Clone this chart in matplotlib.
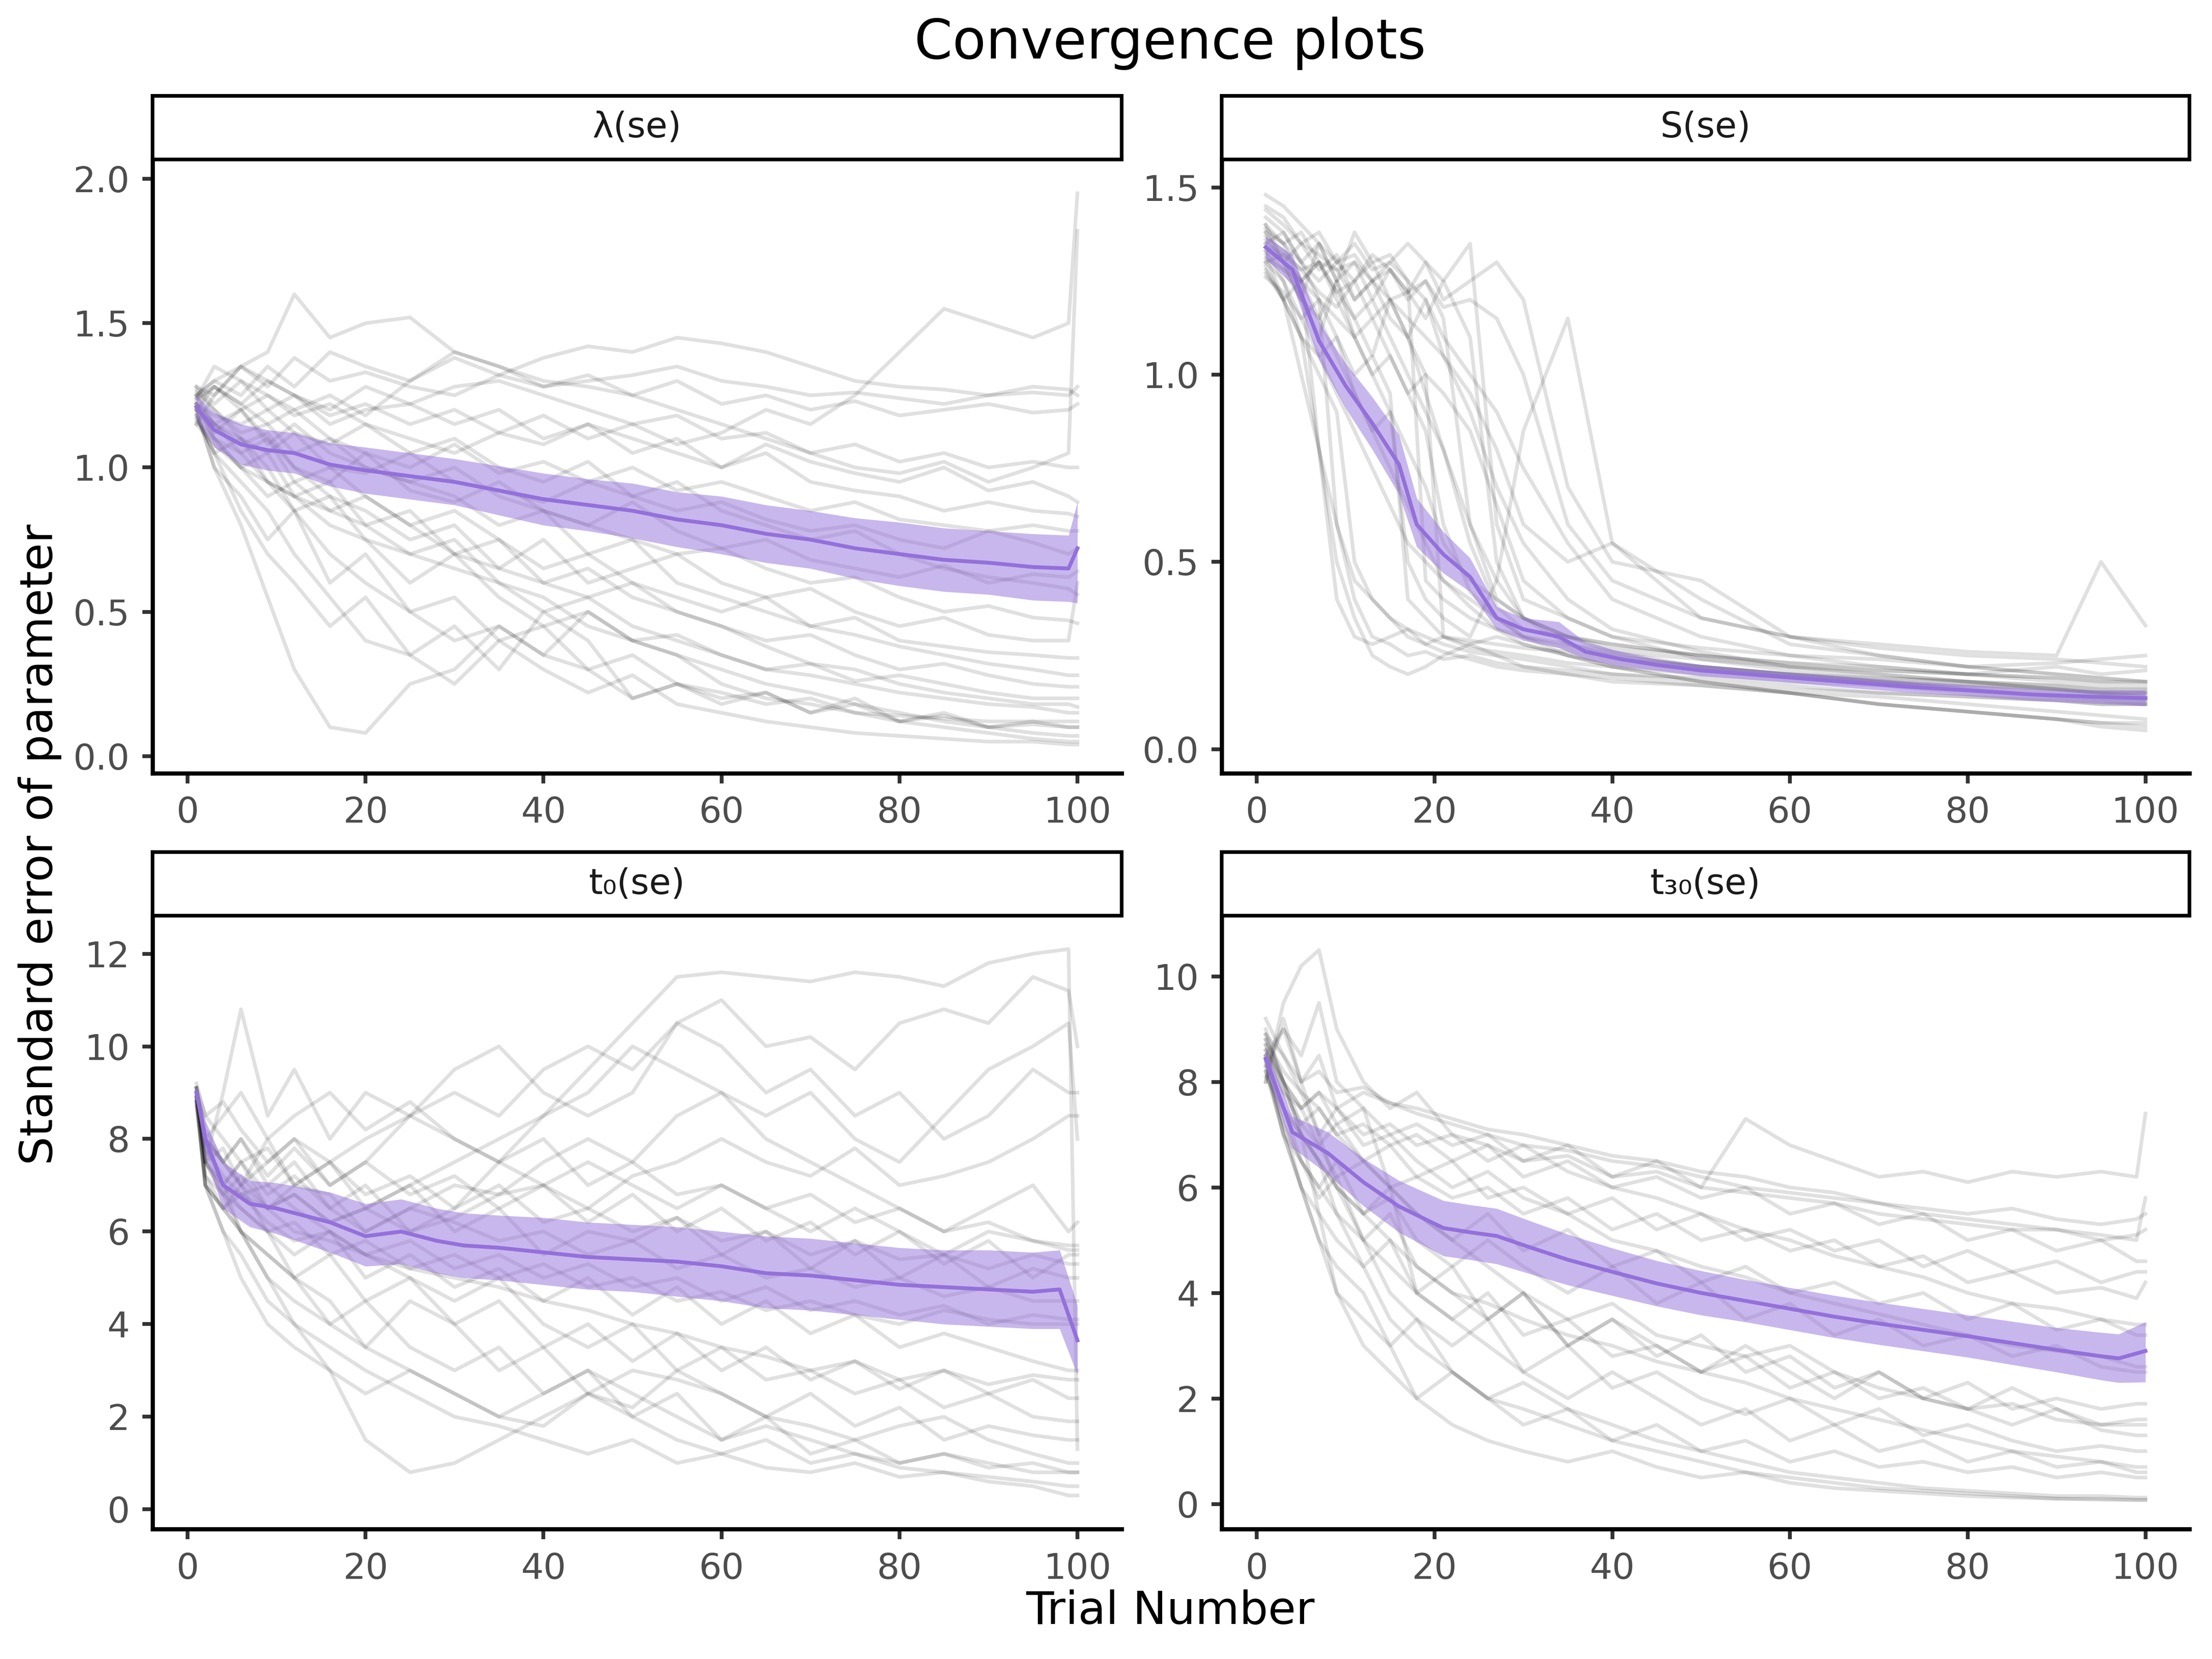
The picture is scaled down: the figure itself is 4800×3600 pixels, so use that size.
import matplotlib
matplotlib.use("Agg")
import matplotlib.pyplot as plt
from matplotlib.ticker import FormatStrFormatter

plt.rcParams['font.family'] = ['DejaVu Sans']

# ---------------- data: lambda(se) ----------------
lam_trials = [1, 3, 6, 9, 12, 16, 20, 25, 30, 35, 40, 45, 50, 55, 60, 65, 70, 75, 80, 85, 90, 95, 99, 100]
lam_runs = [
    [1.25,1.30,1.35,1.28,1.38,1.30,1.33,1.28,1.25,1.32,1.38,1.42,1.40,1.45,1.43,1.40,1.35,1.30,1.28,1.27,1.25,1.26,1.25,1.28],
    [1.20,1.28,1.22,1.30,1.25,1.18,1.22,1.15,1.20,1.12,1.18,1.10,1.15,1.08,1.12,1.20,1.15,1.25,1.40,1.55,1.50,1.45,1.50,1.95],
    [1.15,1.25,1.35,1.40,1.60,1.45,1.50,1.52,1.40,1.35,1.30,1.28,1.25,1.30,1.22,1.25,1.20,1.23,1.18,1.20,1.22,1.19,1.20,1.22],
    [1.28,1.22,1.30,1.25,1.20,1.25,1.18,1.30,1.40,1.35,1.28,1.32,1.25,1.20,1.15,1.10,1.05,1.00,0.98,1.02,0.95,1.00,1.05,1.82],
    [1.22,1.18,1.15,1.20,1.12,1.08,1.15,1.10,1.05,1.12,1.08,1.15,1.10,1.05,1.00,1.08,1.02,0.98,0.95,1.00,0.92,0.95,0.90,0.88],
    [1.25,1.15,1.10,1.05,1.12,1.00,0.98,1.05,0.95,0.92,0.88,0.95,0.90,0.85,0.88,0.82,0.78,0.80,0.75,0.72,0.78,0.74,0.70,0.72],
    [1.20,1.00,0.80,0.55,0.30,0.10,0.08,0.25,0.30,0.45,0.35,0.50,0.40,0.35,0.30,0.25,0.22,0.18,0.15,0.12,0.10,0.08,0.07,0.07],
    [1.18,1.05,0.95,0.85,0.70,0.55,0.40,0.35,0.45,0.30,0.50,0.40,0.20,0.25,0.18,0.22,0.15,0.20,0.12,0.15,0.10,0.12,0.10,0.10],
    [1.22,1.10,1.00,1.05,0.90,0.95,0.80,0.85,0.70,0.75,0.60,0.65,0.55,0.50,0.45,0.38,0.32,0.30,0.25,0.22,0.20,0.18,0.18,0.17],
    [1.26,1.20,1.12,1.15,1.05,1.10,1.00,0.95,0.90,0.80,0.85,0.70,0.75,0.60,0.55,0.50,0.45,0.42,0.38,0.35,0.32,0.30,0.28,0.28],
    [1.15,1.08,1.00,0.90,0.95,0.85,0.80,0.70,0.75,0.60,0.55,0.45,0.40,0.35,0.25,0.20,0.18,0.15,0.12,0.10,0.08,0.06,0.05,0.05],
    [1.24,1.28,1.20,1.25,1.18,1.22,1.15,1.05,1.10,1.00,0.95,1.02,0.90,0.95,0.85,0.80,0.75,0.78,0.70,0.65,0.62,0.60,0.58,0.56],
    [1.20,1.15,1.20,1.10,1.00,0.90,0.85,0.75,0.80,0.65,0.60,0.55,0.60,0.50,0.45,0.40,0.42,0.35,0.30,0.32,0.28,0.25,0.24,0.24],
    [1.28,1.25,1.35,1.30,1.25,1.20,1.28,1.22,1.15,1.20,1.10,1.15,1.05,1.10,1.00,1.05,0.95,0.92,0.90,0.85,0.88,0.85,0.84,0.83],
    [1.19,1.00,0.90,0.75,0.85,0.60,0.70,0.50,0.55,0.40,0.45,0.30,0.35,0.25,0.20,0.22,0.15,0.18,0.12,0.14,0.10,0.11,0.10,0.10],
    [1.22,1.15,1.05,1.10,0.95,1.00,0.90,0.80,0.85,0.75,0.65,0.70,0.60,0.55,0.50,0.55,0.45,0.48,0.40,0.38,0.36,0.35,0.34,0.34],
    [1.25,1.30,1.25,1.35,1.28,1.40,1.35,1.30,1.38,1.32,1.28,1.30,1.32,1.35,1.30,1.28,1.25,1.26,1.24,1.22,1.25,1.28,1.27,1.25],
    [1.16,1.10,1.05,0.95,0.90,0.85,0.90,0.80,0.70,0.65,0.75,0.60,0.65,0.70,0.60,0.55,0.58,0.50,0.45,0.48,0.42,0.40,0.40,0.60],
    [1.21,1.12,1.20,1.08,1.15,1.05,1.00,0.95,1.00,0.90,0.85,0.80,0.75,0.70,0.72,0.65,0.60,0.62,0.55,0.50,0.52,0.48,0.47,0.46],
    [1.27,1.20,1.10,1.00,0.85,0.70,0.60,0.50,0.40,0.45,0.35,0.30,0.20,0.25,0.22,0.18,0.20,0.15,0.14,0.13,0.12,0.12,0.12,0.12],
    [1.23,1.28,1.22,1.15,1.20,1.10,1.05,1.00,1.08,0.98,1.02,0.95,1.00,0.92,0.95,0.90,0.85,0.88,0.82,0.80,0.78,0.80,0.78,0.78],
    [1.18,1.05,1.10,0.95,0.90,0.80,0.75,0.60,0.70,0.55,0.45,0.50,0.40,0.42,0.35,0.30,0.32,0.26,0.28,0.25,0.22,0.20,0.20,0.20],
    [1.24,1.35,1.30,1.20,1.25,1.15,1.20,1.22,1.28,1.30,1.25,1.20,1.15,1.18,1.10,1.12,1.05,1.08,1.02,1.05,1.00,1.02,1.00,1.00],
    [1.20,1.10,1.00,0.95,0.85,0.90,0.75,0.70,0.65,0.60,0.50,0.55,0.45,0.40,0.35,0.30,0.28,0.25,0.22,0.20,0.18,0.17,0.15,0.15],
    [1.22,1.15,1.08,1.12,1.00,0.95,1.05,0.92,0.88,0.95,0.85,0.80,0.88,0.78,0.72,0.75,0.68,0.65,0.62,0.66,0.60,0.63,0.62,0.64],
    [1.17,1.05,0.85,0.70,0.60,0.45,0.55,0.35,0.25,0.40,0.30,0.22,0.28,0.18,0.15,0.12,0.10,0.08,0.07,0.06,0.05,0.05,0.04,0.04],
]
lam_mean_trials = lam_trials
lam_mean = [1.21,1.13,1.08,1.06,1.05,1.01,0.99,0.97,0.95,0.92,0.89,0.87,0.85,0.82,0.80,0.77,0.75,0.72,0.70,0.68,0.67,0.655,0.65,0.72]
lam_lo = [1.17,1.07,1.01,0.99,0.98,0.935,0.91,0.89,0.87,0.835,0.80,0.78,0.755,0.725,0.70,0.67,0.65,0.615,0.59,0.57,0.56,0.54,0.535,0.53]
lam_hi = [1.25,1.19,1.15,1.13,1.12,1.085,1.07,1.05,1.03,1.005,0.98,0.96,0.945,0.915,0.90,0.87,0.85,0.825,0.81,0.79,0.78,0.77,0.765,0.88]

# ---------------- data: S(se) ----------------
s_trials = [1, 3, 5, 7, 9, 11, 13, 15, 17, 19, 21, 24, 27, 30, 35, 40, 50, 60, 70, 80, 90, 95, 100]
s_runs = [
    [1.48,1.45,1.40,1.35,1.30,1.25,1.32,1.28,1.20,1.25,1.15,0.60,0.40,0.35,0.30,0.28,0.25,0.22,0.20,0.18,0.16,0.15,0.15],
    [1.38,1.30,1.20,1.35,1.25,1.38,1.30,1.32,1.25,0.45,0.40,0.35,0.32,0.30,0.28,0.25,0.22,0.20,0.18,0.17,0.16,0.15,0.14],
    [1.30,1.25,1.10,0.80,0.50,0.35,0.25,0.22,0.20,0.22,0.25,0.28,0.30,0.28,0.25,0.23,0.21,0.19,0.18,0.16,0.15,0.14,0.13],
    [1.40,1.35,1.38,1.30,1.28,1.20,1.25,1.30,1.35,1.30,1.25,1.35,0.60,0.40,0.35,0.30,0.27,0.25,0.24,0.22,0.23,0.24,0.25],
    [1.35,1.32,1.25,1.15,1.05,0.95,0.85,0.75,0.65,0.55,0.45,0.38,0.32,0.28,0.25,0.22,0.18,0.15,0.12,0.10,0.08,0.06,0.05],
    [1.28,1.20,1.25,1.30,1.22,1.15,1.20,1.10,1.00,0.90,0.80,0.60,0.45,0.35,0.30,0.26,0.22,0.20,0.19,0.18,0.17,0.16,0.15],
    [1.42,1.38,1.30,1.20,0.60,0.40,0.30,0.28,0.25,0.26,0.24,0.25,0.23,0.22,0.21,0.20,0.19,0.17,0.15,0.14,0.13,0.12,0.12],
    [1.36,1.30,1.35,1.28,1.32,1.20,1.25,1.15,1.10,1.20,1.05,0.90,0.70,0.55,0.40,0.32,0.26,0.22,0.20,0.18,0.16,0.15,0.14],
    [1.33,1.25,1.15,1.20,1.10,1.00,1.05,0.95,0.40,0.35,0.30,0.27,0.26,0.25,0.23,0.22,0.20,0.18,0.17,0.15,0.14,0.13,0.12],
    [1.45,1.42,1.35,1.38,1.30,1.32,1.25,1.28,1.22,1.25,1.18,1.20,1.15,1.00,0.60,0.45,0.35,0.30,0.28,0.26,0.25,0.50,0.33],
    [1.27,1.20,1.10,1.00,0.90,0.50,0.40,0.35,0.30,0.28,0.26,0.24,0.22,0.21,0.20,0.19,0.17,0.15,0.12,0.10,0.08,0.07,0.07],
    [1.38,1.35,1.30,1.25,1.30,1.35,1.28,1.30,1.25,1.20,1.10,1.00,0.90,0.75,0.55,0.40,0.30,0.25,0.22,0.20,0.18,0.17,0.16],
    [1.31,1.28,1.20,1.15,1.25,1.10,1.00,1.05,0.95,1.00,0.30,0.28,0.25,0.22,0.20,0.18,0.17,0.15,0.14,0.12,0.10,0.09,0.08],
    [1.34,1.30,1.25,1.20,1.15,1.10,1.00,0.90,0.50,0.40,0.35,0.30,0.45,0.85,1.15,0.55,0.40,0.28,0.25,0.22,0.20,0.19,0.18],
    [1.40,1.30,1.20,1.10,1.25,1.15,1.05,1.20,1.10,1.00,0.95,0.85,0.65,0.45,0.35,0.30,0.24,0.21,0.19,0.18,0.17,0.16,0.16],
    [1.29,1.20,1.00,0.80,0.60,0.45,0.40,0.35,0.32,0.30,0.28,0.26,0.25,0.24,0.22,0.20,0.18,0.16,0.15,0.14,0.13,0.12,0.12],
    [1.37,1.33,1.28,1.30,1.22,1.25,1.15,1.20,1.10,0.95,0.80,0.55,0.38,0.32,0.30,0.28,0.25,0.23,0.22,0.20,0.19,0.18,0.18],
    [1.32,1.20,1.10,1.05,0.95,0.85,0.75,0.65,0.55,0.50,0.45,0.40,0.35,0.30,0.25,0.22,0.18,0.15,0.12,0.10,0.08,0.07,0.06],
    [1.35,1.38,1.30,1.35,1.25,1.30,1.20,1.28,1.22,1.15,1.25,1.10,0.50,0.35,0.28,0.26,0.24,0.22,0.21,0.20,0.22,0.20,0.21],
    [1.26,1.22,1.15,1.05,1.10,0.95,0.85,0.90,0.80,0.70,0.55,0.45,0.40,0.35,0.30,0.27,0.25,0.23,0.21,0.20,0.19,0.18,0.17],
    [1.44,1.40,1.35,1.32,1.28,1.30,1.25,1.20,1.15,1.10,1.05,0.95,0.80,0.60,0.50,0.55,0.35,0.30,0.27,0.25,0.24,0.23,0.22],
    [1.33,1.28,1.25,0.80,0.40,0.30,0.28,0.30,0.32,0.28,0.30,0.29,0.28,0.27,0.26,0.24,0.22,0.20,0.18,0.16,0.14,0.13,0.13],
    [1.39,1.35,1.25,1.30,1.20,1.10,1.15,1.05,0.95,0.85,0.60,0.42,0.35,0.30,0.27,0.25,0.22,0.20,0.18,0.17,0.16,0.15,0.15],
    [1.30,1.32,1.28,1.22,1.18,1.25,1.30,1.20,1.22,1.30,1.20,1.25,1.30,1.20,0.70,0.50,0.45,0.30,0.25,0.22,0.20,0.19,0.18],
]
s_mean_trials = [1, 4, 7, 10, 13, 16, 18, 21, 24, 27, 30, 34, 37, 41, 45, 50, 59, 66, 73, 80, 87, 94, 100]
s_mean = [1.34,1.28,1.09,0.97,0.87,0.76,0.60,0.52,0.46,0.35,0.32,0.30,0.26,0.24,0.225,0.21,0.193,0.18,0.167,0.157,0.146,0.14,0.136]
s_lo = [1.31,1.24,1.04,0.91,0.80,0.68,0.54,0.47,0.42,0.32,0.29,0.27,0.24,0.22,0.21,0.195,0.18,0.165,0.152,0.142,0.13,0.122,0.115]
s_hi = [1.37,1.32,1.14,1.03,0.94,0.84,0.67,0.58,0.51,0.38,0.35,0.34,0.285,0.26,0.24,0.225,0.206,0.195,0.182,0.172,0.162,0.158,0.157]

# ---------------- data: t0(se) ----------------
t0_trials = [1, 2, 4, 6, 9, 12, 16, 20, 25, 30, 35, 40, 45, 50, 55, 60, 65, 70, 75, 80, 85, 90, 95, 99, 100]
t0_runs = [
    [9.0,8.0,7.5,8.0,7.0,7.5,6.5,7.0,6.0,6.5,7.5,8.5,9.5,10.5,11.5,11.6,11.5,11.4,11.6,11.5,11.3,11.8,12.0,12.1,1.3],
    [8.9,7.5,9.0,10.8,8.5,9.5,8.0,9.0,8.5,9.5,10.0,9.0,8.5,9.0,10.5,11.0,10.0,10.2,9.5,10.5,10.8,10.5,11.5,11.2,10.0],
    [9.1,8.0,7.0,7.5,6.8,7.2,6.5,6.0,6.5,7.0,6.8,7.5,8.0,7.5,8.5,9.0,8.0,7.5,7.0,6.5,6.0,6.5,7.0,6.0,6.2],
    [8.8,7.0,6.5,6.0,5.5,5.0,4.5,3.5,3.0,2.5,2.0,1.8,2.5,2.0,1.5,1.2,1.5,1.0,1.2,0.9,0.8,0.7,0.6,0.5,0.5],
    [9.0,7.5,6.8,6.0,5.0,4.0,3.0,1.5,0.8,1.0,1.5,2.0,2.5,2.2,3.0,2.5,2.0,1.8,1.5,1.8,2.0,1.5,1.2,1.0,1.0],
    [8.7,7.0,6.5,7.0,6.0,5.5,6.0,5.0,5.5,4.8,5.2,4.5,5.0,4.2,4.8,4.0,4.5,3.8,4.2,3.5,3.8,3.5,3.2,3.0,3.0],
    [9.2,8.5,8.0,7.5,7.8,7.0,7.5,6.8,7.2,6.5,7.0,6.2,6.5,6.0,6.3,5.8,6.0,5.5,5.8,5.4,5.5,5.2,5.5,5.3,5.3],
    [8.9,7.8,7.0,6.5,6.0,5.0,4.0,3.5,4.5,4.0,3.0,3.5,2.5,3.0,2.8,2.5,2.0,2.5,1.8,2.2,1.5,1.8,1.6,1.5,1.5],
    [9.0,8.0,8.5,9.0,8.0,8.5,9.0,8.2,8.8,8.0,7.5,8.0,7.0,7.5,6.8,7.0,6.5,6.8,6.2,6.5,6.0,6.2,5.8,5.6,5.6],
    [8.8,7.2,6.8,6.5,6.0,6.2,5.5,5.8,5.2,5.5,5.0,5.3,4.8,5.0,4.5,4.7,4.3,4.5,4.2,4.0,4.3,4.1,4.0,4.0,4.0],
    [9.1,7.5,7.0,6.8,7.0,6.5,6.0,5.5,5.0,4.5,5.0,4.0,3.5,4.0,3.0,3.5,2.8,3.0,2.5,2.8,2.2,2.5,2.0,1.9,1.9],
    [8.9,8.0,7.5,7.0,7.5,8.0,7.0,7.5,8.5,9.0,8.5,9.5,10.0,9.5,10.5,10.0,9.0,9.5,8.5,9.0,8.0,8.5,9.5,9.0,9.0],
    [9.0,7.0,6.0,5.5,4.5,4.0,3.5,3.0,2.5,2.0,1.8,1.5,1.2,1.5,1.0,1.2,0.9,0.8,1.0,0.7,0.8,0.6,0.5,0.3,0.3],
    [8.8,7.5,7.0,7.5,6.5,7.0,6.8,6.0,6.5,6.2,5.8,6.0,5.5,5.8,5.2,5.5,5.0,5.2,4.8,5.0,4.6,4.8,4.5,4.5,4.5],
    [9.0,8.2,7.5,8.0,7.2,7.8,7.0,7.5,6.8,7.2,6.5,7.0,6.2,6.8,6.0,6.5,5.8,6.2,5.5,6.0,5.3,5.8,5.0,5.5,5.5],
    [9.1,8.0,7.0,6.0,5.5,5.0,5.5,4.5,5.0,4.0,4.5,3.5,4.0,3.2,3.8,3.0,3.5,2.8,3.2,2.6,3.0,2.5,2.8,2.4,2.4],
    [8.9,7.5,7.8,7.0,6.5,6.8,6.2,6.5,7.0,7.5,8.0,8.5,9.0,10.0,9.5,9.0,8.5,9.0,8.0,7.5,8.5,9.5,10.0,10.5,8.0],
    [9.0,7.2,6.5,6.8,6.2,5.8,6.0,5.5,5.8,5.2,5.5,5.0,5.3,4.8,5.0,4.5,4.8,4.3,4.5,4.2,4.4,4.0,4.2,4.1,4.1],
    [8.8,7.0,6.0,5.0,4.0,3.5,3.0,2.5,3.0,2.5,2.0,2.5,3.0,2.5,2.0,1.5,1.8,1.5,1.2,1.0,1.2,1.0,0.8,0.8,0.8],
    [9.1,8.5,8.8,8.2,7.5,8.0,7.5,8.0,8.5,8.0,7.5,7.0,7.5,7.0,6.5,7.0,6.5,6.0,6.5,6.0,5.5,6.0,5.8,5.7,5.7],
    [9.0,7.8,7.2,6.8,6.5,6.0,5.8,5.5,5.2,5.0,4.8,4.5,4.3,4.0,3.8,3.5,3.3,3.0,3.2,2.8,3.0,2.7,2.9,2.8,2.8],
    [8.9,7.0,6.5,6.0,5.0,4.5,4.0,4.5,3.5,3.0,3.5,2.5,3.0,2.0,2.5,1.5,2.0,1.2,1.5,1.0,1.2,0.9,1.0,0.8,0.8],
    [9.0,8.0,7.5,7.0,8.0,7.0,7.5,6.5,7.0,6.0,6.5,5.5,6.0,5.8,6.3,5.5,6.0,5.2,5.8,5.0,5.5,4.8,5.2,5.0,5.0],
    [9.1,7.5,6.8,7.2,6.5,6.8,6.2,6.5,6.0,6.3,6.8,7.0,6.5,7.2,7.5,8.0,7.5,7.2,7.8,7.0,7.2,7.5,8.0,8.5,8.5],
]
t0_mean_trials = [1, 2, 4, 7, 10, 13, 16, 20, 24, 28, 31, 35, 40, 45, 50, 55, 60, 65, 70, 75, 80, 85, 90, 95, 98, 100]
t0_mean = [9.0,8.0,7.0,6.6,6.5,6.35,6.2,5.9,6.0,5.8,5.7,5.65,5.55,5.45,5.4,5.35,5.25,5.1,5.05,4.95,4.85,4.8,4.75,4.7,4.75,3.65]
t0_lo = [8.8,7.6,6.5,6.1,5.95,5.75,5.55,5.25,5.3,5.1,5.0,4.95,4.85,4.75,4.7,4.6,4.5,4.35,4.3,4.2,4.1,4.0,3.95,3.9,3.9,2.9]
t0_hi = [9.2,8.4,7.5,7.1,7.05,6.95,6.85,6.6,6.7,6.5,6.4,6.35,6.3,6.2,6.15,6.1,6.0,5.9,5.85,5.75,5.65,5.6,5.6,5.55,5.6,4.4]

# ---------------- data: t30(se) ----------------
t30_trials = [1, 3, 5, 7, 9, 12, 15, 18, 22, 26, 30, 35, 40, 45, 50, 55, 60, 65, 70, 75, 80, 85, 90, 95, 99, 100]
t30_runs = [
    [8.0,9.5,10.2,10.5,9.0,8.0,7.5,7.8,7.0,6.8,6.5,6.8,6.2,6.5,6.0,7.3,6.8,6.5,6.2,6.3,6.1,6.3,6.2,6.3,6.2,7.4],
    [8.5,9.0,8.5,9.5,8.0,7.5,6.0,4.0,3.5,3.0,2.5,2.0,2.5,2.0,1.5,1.8,1.2,1.5,1.0,1.2,0.8,1.0,0.7,0.8,0.6,0.6],
    [8.8,8.0,7.5,7.8,7.5,7.8,7.6,7.4,7.2,7.0,6.8,6.7,6.5,6.4,6.2,6.0,5.9,5.8,5.7,5.5,5.4,5.3,5.2,5.1,5.0,5.8],
    [8.2,7.0,6.0,5.5,5.0,4.5,3.5,3.0,2.5,2.0,1.8,1.5,1.2,1.0,0.8,0.6,0.5,0.4,0.3,0.25,0.2,0.15,0.1,0.1,0.08,0.08],
    [8.5,7.5,7.0,6.5,6.0,5.5,5.8,5.0,4.5,5.0,4.5,4.0,4.5,3.8,4.2,3.5,3.8,3.2,3.5,3.0,3.2,2.8,3.0,2.6,2.5,2.5],
    [9.0,8.0,7.2,7.5,7.0,7.2,6.8,7.0,6.5,6.8,6.2,6.5,6.0,6.2,5.8,6.0,5.5,5.7,5.3,5.5,5.0,5.2,4.8,5.0,4.6,4.6],
    [8.3,7.0,6.0,5.0,4.0,3.0,2.5,2.0,2.5,2.0,1.5,1.8,1.2,1.5,1.0,1.2,0.8,1.0,0.7,0.8,0.6,0.7,0.5,0.6,0.5,0.5],
    [8.7,7.8,7.5,6.8,7.2,6.5,6.8,6.2,6.5,5.8,6.0,5.5,5.8,5.2,5.5,5.0,5.2,4.8,5.0,4.5,4.8,4.4,4.6,4.2,4.4,4.4],
    [8.1,7.5,6.5,6.0,5.5,4.5,5.0,4.0,4.5,3.5,4.0,3.0,3.5,3.0,2.5,3.0,2.5,2.0,2.5,2.0,1.8,2.2,1.8,1.5,1.6,1.6],
    [8.9,8.5,8.0,8.2,7.8,7.9,7.6,7.5,7.3,7.1,7.0,6.8,6.6,6.5,6.3,6.2,6.0,5.9,5.7,5.6,5.5,5.6,5.4,5.3,5.4,5.5],
    [8.4,7.0,6.5,6.0,6.5,5.5,6.0,5.5,5.0,5.5,4.8,5.2,4.5,4.8,4.2,4.5,4.0,4.2,3.8,4.0,3.5,3.8,3.3,3.5,3.2,3.2],
    [8.6,8.0,7.0,5.5,4.0,3.5,3.0,2.0,1.5,1.2,1.0,0.8,1.0,0.7,0.5,0.6,0.4,0.3,0.25,0.2,0.15,0.12,0.1,0.08,0.07,0.07],
    [8.0,9.2,8.0,8.5,7.5,7.0,7.2,6.8,7.0,6.5,6.8,6.3,6.0,5.8,5.5,5.2,5.0,4.7,4.5,4.3,4.0,3.8,3.7,3.5,3.4,3.4],
    [8.5,7.5,7.0,6.5,5.5,5.0,4.0,3.5,3.0,3.5,2.5,3.0,2.2,2.5,2.0,1.7,2.0,1.5,1.8,1.3,1.5,1.2,1.0,1.1,1.0,1.0],
    [9.2,8.5,7.8,7.0,7.5,6.8,7.0,6.5,6.0,6.3,5.8,5.5,5.0,4.8,4.5,4.3,4.0,3.8,3.6,3.4,3.2,3.0,2.9,2.8,2.6,2.6],
    [8.2,7.2,6.0,5.0,4.5,4.0,3.0,3.5,2.5,2.0,2.3,1.8,1.5,1.2,1.0,0.8,0.6,0.5,0.4,0.3,0.25,0.2,0.15,0.15,0.12,0.12],
    [8.8,8.2,7.8,7.5,7.0,6.5,6.0,5.5,5.0,4.5,4.0,3.5,3.8,3.2,3.0,2.8,3.0,2.5,2.2,2.0,1.8,1.5,1.8,1.4,1.3,1.3],
    [8.6,7.8,7.2,6.8,6.2,6.5,6.0,6.2,5.8,6.0,5.5,5.8,5.2,5.5,5.0,5.2,4.8,5.0,4.5,4.7,4.2,4.4,4.0,4.1,3.9,4.2],
    [8.3,9.0,8.0,7.0,6.0,5.0,4.5,4.0,3.5,4.0,3.2,3.5,2.8,3.0,2.5,2.8,2.2,2.5,2.0,2.2,1.8,1.9,1.6,1.5,1.5,1.5],
    [8.7,8.0,7.5,7.8,7.2,7.5,7.0,7.2,6.8,7.0,6.5,6.6,6.2,6.3,6.0,5.9,5.8,5.7,5.5,5.4,5.3,5.2,5.2,5.0,5.1,5.2],
    [8.4,7.2,6.5,5.8,6.2,5.0,5.5,4.5,4.0,3.5,4.0,3.0,3.5,2.8,3.2,2.5,2.8,2.2,2.5,2.0,2.3,1.8,2.0,1.8,1.9,1.9],
    [8.9,8.0,7.0,6.5,6.0,5.5,5.0,4.5,4.0,3.8,3.5,3.2,3.0,2.7,2.5,2.3,2.0,1.8,1.6,1.4,1.2,1.0,0.9,0.8,0.7,0.7],
]
t30_mean_trials = [1, 4, 8, 12, 16, 21, 24, 27, 31, 35, 40, 45, 50, 55, 60, 65, 70, 75, 80, 85, 90, 95, 97, 100]
t30_mean = [8.44,7.05,6.65,6.1,5.64,5.23,5.15,5.08,4.85,4.63,4.4,4.18,4.0,3.85,3.7,3.55,3.42,3.3,3.18,3.05,2.92,2.8,2.76,2.9]
t30_lo = [8.25,6.75,6.25,5.65,5.15,4.7,4.63,4.55,4.35,4.15,3.95,3.75,3.58,3.45,3.3,3.15,3.02,2.9,2.78,2.64,2.5,2.35,2.3,2.31]
t30_hi = [8.63,7.35,7.05,6.55,6.13,5.75,5.67,5.6,5.35,5.11,4.85,4.61,4.42,4.25,4.1,3.95,3.82,3.7,3.58,3.46,3.34,3.25,3.22,3.45]

strip_labels = ['λ(se)', 'S(se)', 't₀(se)', 't₃₀(se)']
x_ticks = [0, 20, 40, 60, 80, 100]

# ---------------- figure ----------------
fig = plt.figure(figsize=(16, 12), dpi=300)

TICK_COLOR = '#4D4D4D'
PURPLE = '#9370DB'
col_x = [(0.0689, 0.507), (0.5523, 0.9898)]
row_y = [(0.534, 0.904), (0.0782, 0.448)]
strip_h = 0.0383

panels = [
    dict(trials=lam_trials, runs=lam_runs, mt=lam_mean_trials, m=lam_mean, lo=lam_lo, hi=lam_hi,
         ylim=(-0.059, 2.068), yticks=[0.0, 0.5, 1.0, 1.5, 2.0], fmt='%.1f', pos=(0, 0)),
    dict(trials=s_trials, runs=s_runs, mt=s_mean_trials, m=s_mean, lo=s_lo, hi=s_hi,
         ylim=(-0.064, 1.575), yticks=[0.0, 0.5, 1.0, 1.5], fmt='%.1f', pos=(0, 1)),
    dict(trials=t0_trials, runs=t0_runs, mt=t0_mean_trials, m=t0_mean, lo=t0_lo, hi=t0_hi,
         ylim=(-0.43, 12.82), yticks=[0, 2, 4, 6, 8, 10, 12], fmt='%d', pos=(1, 0)),
    dict(trials=t30_trials, runs=t30_runs, mt=t30_mean_trials, m=t30_mean, lo=t30_lo, hi=t30_hi,
         ylim=(-0.48, 11.15), yticks=[0, 2, 4, 6, 8, 10], fmt='%d', pos=(1, 1)),
]

for p, label in zip(panels, strip_labels):
    r, c = p['pos']
    x0, x1 = col_x[c]
    y0, y1 = row_y[r]
    ax = fig.add_axes([x0, y0, x1 - x0, y1 - y0])
    for run in p['runs']:
        ax.plot(p['trials'], run, color='black', alpha=0.12, lw=1.9, zorder=2)
    ax.fill_between(p['mt'], p['lo'], p['hi'], color=PURPLE, alpha=0.5, lw=0, zorder=3)
    ax.plot(p['mt'], p['m'], color=PURPLE, lw=2.0, zorder=4)
    ax.set_xlim(-3.95, 104.95)
    ax.set_ylim(*p['ylim'])
    ax.set_xticks(x_ticks)
    ax.set_yticks(p['yticks'])
    ax.yaxis.set_major_formatter(FormatStrFormatter(p['fmt']))
    for s in ['top', 'right']:
        ax.spines[s].set_visible(False)
    for s in ['left', 'bottom']:
        ax.spines[s].set_linewidth(2.2)
        ax.spines[s].set_color('black')
    ax.tick_params(axis='both', which='major', length=5.3, width=2.0, color='#333333',
                   labelcolor=TICK_COLOR, labelsize=18.5, pad=6.5)
    ax.set_facecolor('white')

    sax = fig.add_axes([x0, y1, x1 - x0, strip_h])
    sax.set_xticks([])
    sax.set_yticks([])
    for s in sax.spines.values():
        s.set_linewidth(1.9)
        s.set_color('black')
    sax.text(0.5, 0.5, label, transform=sax.transAxes, ha='center', va='center',
             fontsize=18.5, color='#1A1A1A')

fig.text(0.529, 0.974, 'Convergence plots', ha='center', va='center', fontsize=28.5, color='black')
fig.text(0.529, 0.029, 'Trial Number', ha='center', va='center', fontsize=23.6, color='black')
fig.text(0.018, 0.491, 'Standard error of parameter', ha='center', va='center',
         rotation=90, fontsize=23.6, color='black')

fig.savefig('out.png', dpi=300, facecolor='white')
